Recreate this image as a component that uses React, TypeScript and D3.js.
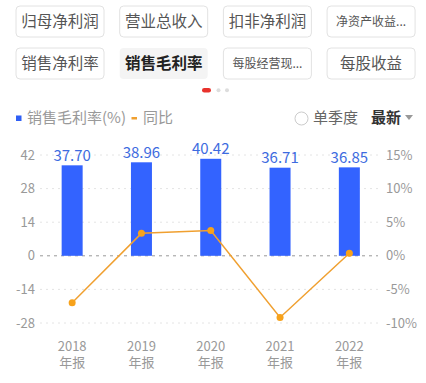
import React from "react";
import * as d3 from "d3";

const tabs = ["归母净利润", "营业总收入", "扣非净利润", "净资产收益...", "销售净利率", "销售毛利率", "每股经营现...", "每股收益"];
const categories = ["2018", "2019", "2020", "2021", "2022"];
const margin = [37.70, 38.96, 40.42, 36.71, 36.85];
const yoy = [-7.0, 3.34, 3.75, -9.18, 0.38];
const leftTicks = [42, 28, 14, 0, -14, -28];
const rightTicks = [15, 10, 5, 0, -5, -10];

const W = 426, H = 383;
const FONT = "'Noto Sans CJK SC', 'Noto Sans', sans-serif";

export default function App() {
  const x = d3.scaleBand<string>().domain(categories).range([37.5, 384]).paddingInner(0.7).paddingOuter(0.35);
  const yL = d3.scaleLinear().domain([-28, 42]).range([323, 155]);
  const yR = d3.scaleLinear().domain([-10, 15]).range([323, 155]);
  const bw = 21;
  const cx = (c: string) => (x(c) as number) + x.bandwidth() / 2;
  const line = d3.line<number>().x((_, i) => cx(categories[i])).y((v) => yR(v));

  return (
    <svg width={W} height={H} style={{ position: "absolute", left: 0, top: 0, background: "#fff" }} fontFamily={FONT}>
      {tabs.map((t, i) => {
        const col = i % 4, row = Math.floor(i / 4);
        const bx = 16 + col * 103.7, by = 6 + row * 42;
        const sel = i === 5;
        const small = t.endsWith("...");
        return (
          <g key={t}>
            <rect x={bx} y={by} width={88} height={31} rx={4}
              fill={sel ? "#f4f4f4" : "#fff"} stroke={sel ? "none" : "#e2e2e2"} strokeWidth={1} />
            <text x={bx + 44} y={by + 15.5} dy="0.36em" textAnchor="middle"
              fontSize={small ? 12 : 15.5} fill={sel ? "#222" : "#555"} fontWeight={sel ? 700 : 400}>{t}</text>
          </g>
        );
      })}
      <rect x={202} y={88} width={9} height={4.5} rx={2.25} fill="#e8322c" />
      <circle cx={218.5} cy={90.2} r={2} fill="#ddd" />
      <circle cx={227} cy={90.2} r={2} fill="#ddd" />

      {/* legend */}
      <rect x={16} y={115.5} width={5.5} height={5.5} fill="#2f5ff5" />
      <text x={27} y={118} dy="0.36em" fontSize={15} fill="#999">销售毛利率(%)</text>
      <rect x={131.5} y={117} width={5.5} height={2.5} fill="#f0a030" />
      <text x={143} y={118} dy="0.36em" fontSize={15} fill="#999">同比</text>
      <circle cx={301.5} cy={118.5} r={6.5} fill="none" stroke="#ccc" strokeWidth={1} />
      <text x={313} y={118} dy="0.36em" fontSize={15} fill="#666">单季度</text>
      <text x={371} y={118} dy="0.36em" fontSize={15} fill="#333" fontWeight={600}>最新</text>
      <path d="M405,115 L413,115 L409,120 Z" fill="#999" />

      {/* grid */}
      {leftTicks.map((t) => (
        <line key={t} x1={40} x2={378} y1={yL(t)} y2={yL(t)}
          stroke={t === 0 ? "#999" : "#e4e4e4"} strokeWidth={1} strokeDasharray={t === 0 ? "3,4" : "2,4"} />
      ))}
      {leftTicks.map((t) => (
        <text key={"l" + t} x={35} y={yL(t)} dy="0.36em" textAnchor="end" fontSize={13} fill="#999">{t}</text>
      ))}
      {rightTicks.map((t) => (
        <text key={"r" + t} x={386} y={yR(t)} dy="0.36em" fontSize={13} fill="#999">{t}%</text>
      ))}

      {/* bars */}
      {categories.map((c, i) => (
        <g key={c}>
          <rect x={cx(c) - bw / 2} y={yL(margin[i])} width={bw} height={yL(0) - yL(margin[i])} fill="#3363ff" />
          <text x={cx(c)} y={yL(margin[i]) - 10} dy="0.36em" textAnchor="middle" fontSize={15} fill="#3d6be0">{margin[i].toFixed(2)}</text>
          <text textAnchor="middle" fontSize={13} fill="#999">
            <tspan x={cx(c)} y={351}>{c}</tspan>
            <tspan x={cx(c)} y={366.5}>年报</tspan>
          </text>
        </g>
      ))}

      <path d={line(yoy) || ""} fill="none" stroke="#f0a030" strokeWidth={1.5} />
      {yoy.map((v, i) => (
        <circle key={i} cx={cx(categories[i])} cy={yR(v)} r={3.5} fill="#f7a21b" />
      ))}
    </svg>
  );
}
